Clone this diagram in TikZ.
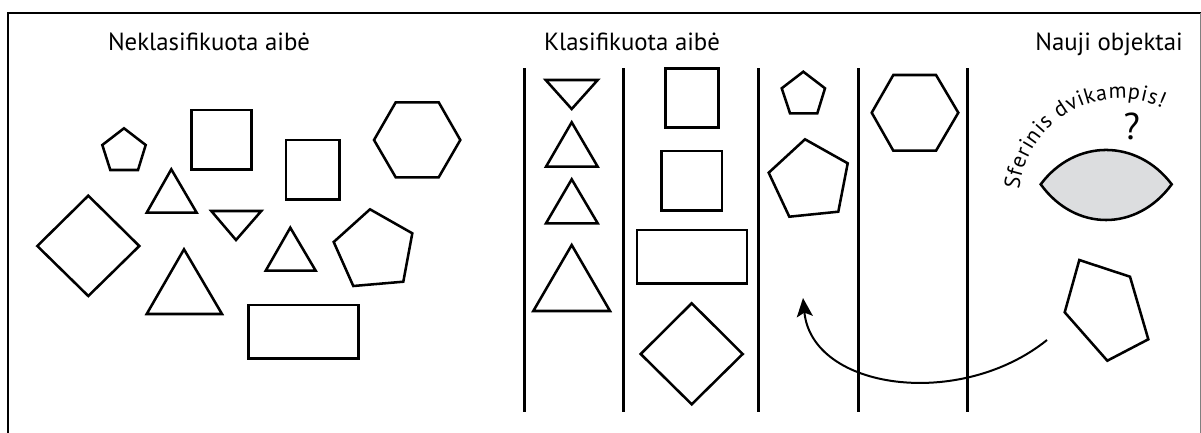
\documentclass[tikz,border=0pt]{standalone}
\usepackage{fontspec}
\setmainfont{PT Sans}
\usetikzlibrary{arrows.meta,calc}
\definecolor{lensgray}{HTML}{DCDDDF}
\newcommand\curvefont{\fontsize{16.5}{18}\selectfont}
\newcommand\curvechars{S,f,e,r,i,n,i,s,\ ,d,v,i,k,a,m,p,i,s,!}
\newdimen\arcrun
% arc length from the start of the curved label to the middle of each glyph
\AtBeginDocument{%
  \global\arcrun=0pt
  \foreach \ch [count=\k] in \curvechars {%
    \setbox0=\hbox{\curvefont\ch}%
    \expandafter\xdef\csname arcmid\k\endcsname{\the\dimexpr\arcrun+0.5\wd0\relax}%
    \global\advance\arcrun by \wd0
    \global\advance\arcrun by 0.6pt
  }%
}
\begin{document}
\begin{tikzpicture}[x=0.75pt,y=-0.75pt,
  outline/.style={draw=black,line width=1.9pt,line join=miter},
  divider/.style={draw=black,line width=2.2pt},
  heading/.style={font=\fontsize{18.6}{23}\selectfont,anchor=base,inner sep=0pt},
  arcchar/.style={font=\curvefont,anchor=base,inner sep=0pt},
  movearrow/.style={draw=black,line width=1.5pt,-{Stealth[length=14pt,width=12pt,inset=3pt]}}]
\useasboundingbox (0,0) rectangle (1201,432);

% outer frame
\draw[line width=2.2pt] (8,445) -- (8,13) -- (1205,13);
\draw[gray,line width=0.6pt] (1200,13) -- (1200,440);

% headings
\node[heading] (unsorted) at (209,50) {Neklasifikuota aibė};
\node[heading] (sorted) at (632,50) {Klasifikuota aibė};
\node[heading,anchor=base east] (newobj) at (1183,50) {Nauji objektai};

% --- unsorted set ---
\draw[outline] (124,128.3) -- (145.7,145) -- (138,170) -- (110.3,170) -- (102.3,145) -- cycle;
\draw[outline] (191.7,110) rectangle (251.7,169.3);
\draw[outline] (286,140) rectangle (339.3,199.3);
\draw[outline] (374,140) -- (395.7,102.3) -- (438.7,102.3) -- (460.3,140) -- (438.7,177.3) -- (395.7,177.3) -- cycle;
\draw[outline] (171.3,169.3) -- (196.7,212.7) -- (146.7,212.7) -- cycle;
\draw[outline] (211.3,211) -- (261.3,211) -- (236,240) -- cycle;
\draw[outline] (37.3,246) -- (88.3,195.7) -- (139.3,246) -- (88.3,296) -- cycle;
\draw[outline] (184,249.3) -- (222,314) -- (146.7,314) -- cycle;
\draw[outline] (290.3,227.7) -- (315.7,270.7) -- (265.7,270.7) -- cycle;
\draw[outline] (370,209.3) -- (412.3,233.3) -- (403.3,281.7) -- (353.3,286) -- (333.7,242) -- cycle;
\draw[outline] (248.7,305) rectangle (358.3,358.3);

% --- sorted set: column dividers ---
\foreach \xx in {524.3,623.3,758.7,858.3,967.3}
  \draw[divider] (\xx,68) -- (\xx,412);

% triangles
\draw[outline] (545.7,80) -- (597.7,80) -- (571.7,109) -- cycle;
\draw[outline] (571.7,122.3) -- (597.7,166.7) -- (546,166.7) -- cycle;
\draw[outline] (571.7,179.3) -- (597.7,223.3) -- (546,223.3) -- cycle;
\draw[outline] (571.7,245) -- (610,311) -- (533.3,311) -- cycle;
% quadrilaterals
\draw[outline] (665.3,68.3) rectangle (718.7,127.7);
\draw[outline] (661.7,151) rectangle (722,210.3);
\draw[outline] (637,230) rectangle (747,283.3);
\draw[outline] (691.7,303.3) -- (742.7,354) -- (691.7,404.3) -- (640.7,354) -- cycle;
% pentagons
\draw[outline] (803.3,71.7) -- (825,88.3) -- (817.3,113.3) -- (790,113.3) -- (781.7,88.3) -- cycle;
\draw[outline] (805,139.3) -- (847.7,163.3) -- (838.3,211.7) -- (789.3,216.7) -- (768.7,172.7) -- cycle;
% hexagon
\draw[outline] (871.7,112.7) -- (893.3,75) -- (936,75) -- (958.3,112.7) -- (936,150.7) -- (893.3,150.7) -- cycle;

% --- new objects ---
\draw[outline,fill=lensgray] (1040.7,184.3) .. controls (1075,138.5) and (1137,138.5) .. (1171.7,184.3)
  .. controls (1137,231.9) and (1075,231.9) .. (1040.7,184.3) -- cycle;
\node[font=\fontsize{28}{30}\selectfont,inner sep=0pt] (question) at (1131.7,126) {?};

% curved label: one rotated glyph at a time along an arc (y-up point units)
\begin{scope}[x=1pt,y=1pt]
\coordinate (arccentre) at (840,-150);
\foreach \ch [count=\k] in \curvechars {
  \pgfmathsetmacro\chang{174-\csname arcmid\k\endcsname/76*180/pi}
  \node[arcchar,rotate=\chang-90] (arcch\k) at ($(arccentre)+(\chang:76)$) {\ch};
}
\end{scope}

\draw[outline] (1079.3,260) -- (1130,276.7) -- (1148.3,339.3) -- (1107.3,360.7) -- (1064.7,312.3) -- cycle;

\coordinate (arrowstart) at (1047,340);
\coordinate (arrowtip) at (803,298);
\draw[movearrow] (arrowstart) .. controls (960,410) and (812,390) .. (arrowtip);
\end{tikzpicture}
\end{document}
